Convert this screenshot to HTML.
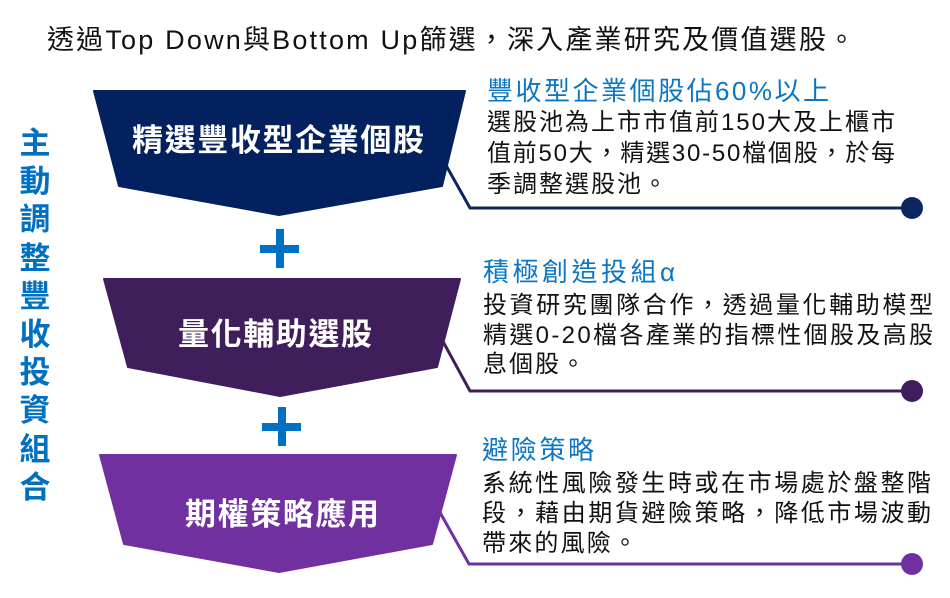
<!DOCTYPE html>
<html lang="zh-Hant">
<head>
<meta charset="utf-8">
<style>
  html, body { margin: 0; padding: 0; background: #ffffff; }
  body { width: 950px; height: 598px; overflow: hidden; }
  svg { display: block; }
  text { font-family: "Liberation Sans", "Noto Sans CJK TC", "Noto Sans CJK SC", sans-serif; }
  .title { font-size: 27px; fill: #111111; }
  .vert { font-size: 31px; font-weight: bold; fill: #0070c0; }
  .lbl { font-size: 31px; font-weight: bold; fill: #ffffff; }
  .hd { font-size: 26px; fill: #0b76c4; }
  .bd { font-size: 24px; fill: #111111; }
</style>
</head>
<body>
<svg width="950" height="598" viewBox="0 0 950 598" xmlns="http://www.w3.org/2000/svg" lang="zh-Hant">
  <!-- Title -->
  <text class="title" x="47" y="49" textLength="808" lengthAdjust="spacing">透過Top Down與Bottom Up篩選，深入產業研究及價值選股。</text>

  <!-- Left vertical text -->
  <g class="vert" text-anchor="middle">
    <text x="35" y="154">主</text>
    <text x="35" y="192">動</text>
    <text x="35" y="230">調</text>
    <text x="35" y="269">整</text>
    <text x="35" y="307">豐</text>
    <text x="35" y="345">收</text>
    <text x="35" y="383">投</text>
    <text x="35" y="421">資</text>
    <text x="35" y="460">組</text>
    <text x="35" y="498">合</text>
  </g>

  <!-- Connectors -->
  <g fill="none" stroke-width="3" stroke-linejoin="miter">
    <polyline points="438,151 470,208 905,208" stroke="#0d2662"/>
    <polyline points="434,325 470,391 905,391" stroke="#3f1e5b"/>
    <polyline points="433,500 469,564 905,564" stroke="#7030a0"/>
  </g>
  <circle cx="912" cy="208" r="11" fill="#0d2662"/>
  <circle cx="912" cy="391" r="11" fill="#3f1e5b"/>
  <circle cx="912" cy="564" r="11" fill="#7030a0"/>

  <!-- Shapes -->
  <polygon points="94,91 465,91 442,186 279,215 119,186" fill="#03215e" stroke="#03215e" stroke-width="2" stroke-linejoin="round"/>
  <polygon points="104,279 460,279 437,367 280,396 128,367" fill="#3f1e5b" stroke="#3f1e5b" stroke-width="2" stroke-linejoin="round"/>
  <polygon points="100,455 456,455 432,544 279,572 124,544" fill="#7030a0" stroke="#7030a0" stroke-width="2" stroke-linejoin="round"/>

  <!-- Shape labels -->
  <text class="lbl" x="278" y="151" text-anchor="middle" textLength="292" lengthAdjust="spacing">精選豐收型企業個股</text>
  <text class="lbl" x="275" y="345" text-anchor="middle" textLength="194" lengthAdjust="spacing">量化輔助選股</text>
  <text class="lbl" x="282" y="525" text-anchor="middle" textLength="194" lengthAdjust="spacing">期權策略應用</text>

  <!-- Plus signs -->
  <rect x="260" y="245" width="39" height="8" fill="#0070c0"/>
  <rect x="276" y="229" width="8" height="39" fill="#0070c0"/>
  <rect x="262" y="423" width="39" height="8" fill="#0070c0"/>
  <rect x="278" y="407" width="8" height="39" fill="#0070c0"/>

  <!-- Panel 1 -->
  <text class="hd" x="487" y="100" textLength="342" lengthAdjust="spacing">豐收型企業個股佔60%以上</text>
  <text class="bd" x="487" y="130" textLength="408" lengthAdjust="spacing">選股池為上市市值前150大及上櫃市</text>
  <text class="bd" x="487" y="161" textLength="408" lengthAdjust="spacing">值前50大，精選30-50檔個股，於每</text>
  <text class="bd" x="487" y="192" textLength="180" lengthAdjust="spacing">季調整選股池。</text>

  <!-- Panel 2 -->
  <text class="hd" x="483" y="281" textLength="192" lengthAdjust="spacing">積極創造投組α</text>
  <text class="bd" x="483" y="313" textLength="450" lengthAdjust="spacing">投資研究團隊合作，透過量化輔助模型</text>
  <text class="bd" x="483" y="343" textLength="450" lengthAdjust="spacing">精選0-20檔各產業的指標性個股及高股</text>
  <text class="bd" x="483" y="372" textLength="102" lengthAdjust="spacing">息個股。</text>

  <!-- Panel 3 -->
  <text class="hd" x="482" y="459" textLength="112" lengthAdjust="spacing">避險策略</text>
  <text class="bd" x="482" y="491" textLength="449" lengthAdjust="spacing">系統性風險發生時或在市場處於盤整階</text>
  <text class="bd" x="482" y="521" textLength="449" lengthAdjust="spacing">段，藉由期貨避險策略，降低市場波動</text>
  <text class="bd" x="482" y="551" textLength="155" lengthAdjust="spacing">帶來的風險。</text>
</svg>
</body>
</html>
